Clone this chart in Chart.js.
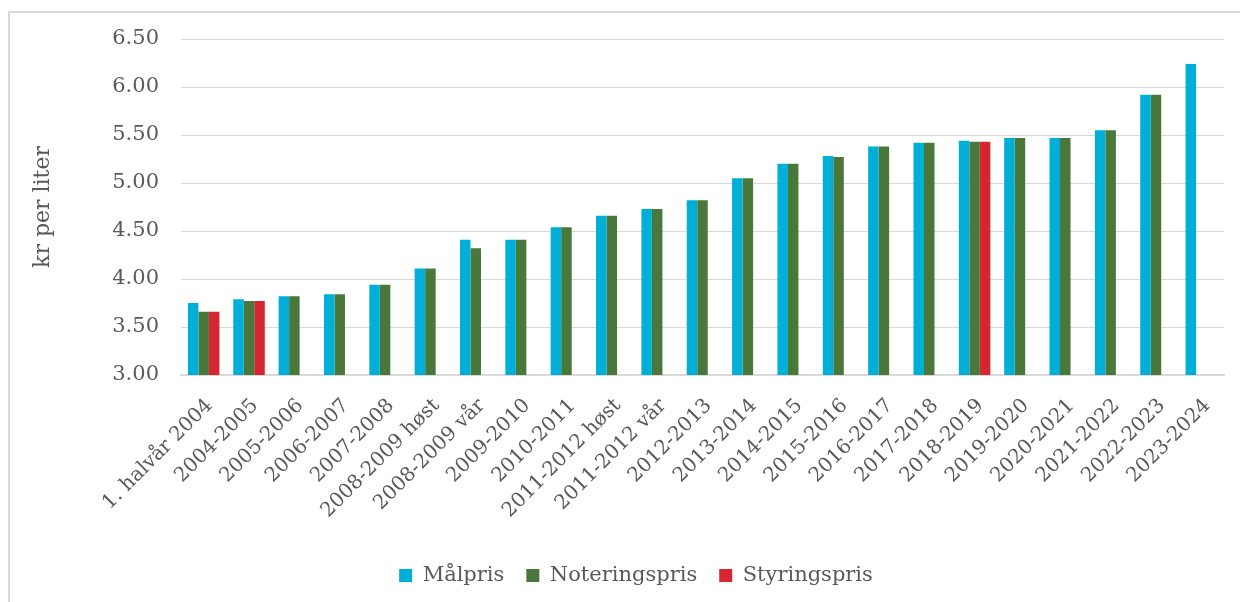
<!DOCTYPE html>
<html>
<head>
<meta charset="utf-8">
<script src="https://cdn.jsdelivr.net/npm/chart.js@4/dist/chart.umd.min.js"></script>
<style>
  html, body { margin: 0; padding: 0; background: #fff; width: 1240px; height: 602px; overflow: hidden; }
  #frame { position: absolute; left: 8px; top: 11px; width: 1250px; height: 640px; border: 2px solid #d9d9d9; box-sizing: border-box; }
  #c { position: absolute; left: 0; top: 0; }
</style>
</head>
<body>
<div id="frame"></div>
<canvas id="c" width="1240" height="602"></canvas>
<script>
const categories = [
  "1. halvår 2004", "2004-2005", "2005-2006", "2006-2007", "2007-2008",
  "2008-2009 høst", "2008-2009 vår", "2009-2010", "2010-2011", "2011-2012 høst",
  "2011-2012 vår", "2012-2013", "2013-2014", "2014-2015", "2015-2016",
  "2016-2017", "2017-2018", "2018-2019", "2019-2020", "2020-2021",
  "2021-2022", "2022-2023", "2023-2024"
];
const malpris = [3.75, 3.79, 3.82, 3.84, 3.94, 4.11, 4.41, 4.41, 4.54, 4.66,
  4.73, 4.82, 5.05, 5.20, 5.28, 5.38, 5.42, 5.44, 5.47, 5.47, 5.55, 5.92, 6.24];
const noteringspris = [3.66, 3.77, 3.82, 3.84, 3.94, 4.11, 4.32, 4.41, 4.54, 4.66,
  4.73, 4.82, 5.05, 5.20, 5.27, 5.38, 5.42, 5.43, 5.47, 5.47, 5.55, 5.92, null];
const styringspris = [3.66, 3.77, null, null, null, null, null, null, null, null,
  null, null, null, null, null, null, null, 5.43, null, null, null, null, null];
const seriesNames = ["Målpris", "Noteringspris", "Styringspris"];
const yTicks = { min: 3.0, max: 6.5, step: 0.5 };
const yTitle = "kr per liter";

const colors = ["#00AFD7", "#4A783A", "#D52631"];
const FONT = "'DejaVu Serif', 'Liberation Serif', serif";
const TXT = "#595959";

const legendShift = {
  id: "legendShift",
  afterLayout(chart) {
    if (chart.legend) { chart.legend.left += 24; chart.legend.right += 24; }
  }
};

new Chart(document.getElementById("c"), {
  type: "bar",
  data: {
    labels: categories,
    datasets: [malpris, noteringspris, styringspris].map((d, i) => ({
      label: seriesNames[i],
      data: d,
      backgroundColor: colors[i],
      borderWidth: 0,
      categoryPercentage: 0.695,
      barPercentage: 1.0
    }))
  },
  plugins: [legendShift],
  options: {
    responsive: false,
    animation: false,
    devicePixelRatio: 1,
    layout: { padding: { top: 39, right: 16, left: 0, bottom: 6 } },
    plugins: {
      tooltip: { enabled: false },
      legend: {
        position: "bottom",
        labels: {
          boxWidth: 13, boxHeight: 13, padding: 22,
          color: TXT,
          font: { family: FONT, size: 21 }
        }
      }
    },
    scales: {
      x: {
        grid: { display: false, drawTicks: false },
        border: { display: true, color: "#d9d9d9", width: 2 },
        ticks: {
          autoSkip: false, maxRotation: 45, minRotation: 45,
          padding: 19, labelOffset: 6,
          color: TXT, font: { family: FONT, size: 20 }
        },
        afterFit: (s) => { s.height = 168; }
      },
      y: {
        min: yTicks.min, max: yTicks.max,
        grid: { color: "#d9d9d9", lineWidth: 1, drawTicks: false },
        border: { display: false },
        ticks: {
          stepSize: yTicks.step, padding: 22,
          color: TXT, font: { family: FONT, size: 21 },
          callback: (v) => Number(v).toFixed(2)
        },
        title: {
          display: true, text: yTitle, color: TXT,
          font: { family: FONT, size: 22 },
          padding: { top: 30, bottom: 0 }
        },
        afterFit: (s) => { s.width = 181; }
      }
    }
  }
});
</script>
</body>
</html>
